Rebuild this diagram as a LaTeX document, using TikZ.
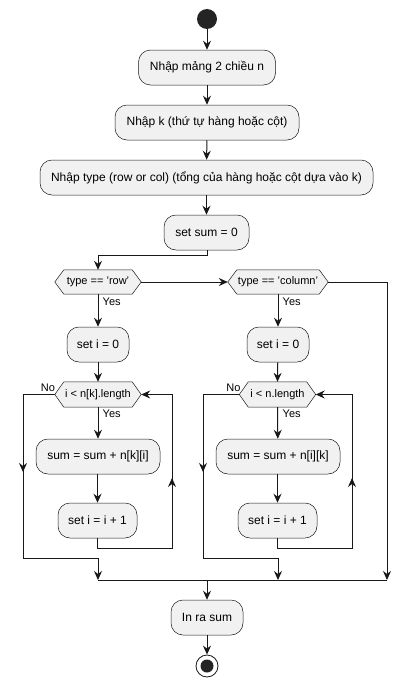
\documentclass[tikz,border=0pt]{standalone}
\usepackage{fontspec}
\setmainfont{Liberation Sans}
\usetikzlibrary{arrows.meta}
\definecolor{boxfill}{HTML}{F1F1F1}
\definecolor{ink}{HTML}{181818}
\tikzset{
  x=1pt,y=-1pt,
  act/.style={draw=ink,fill=boxfill,line width=0.5pt,rounded corners=12pt,minimum height=35pt,inner sep=0pt,font=\fontsize{12}{14}\selectfont,text=black},
  cond/.style={minimum height=24pt,inner sep=0pt,font=\fontsize{11}{13}\selectfont,text=black},
  lbl/.style={font=\fontsize{11}{13}\selectfont,text=black,inner sep=0pt},
  flow/.style={draw=ink,line width=1pt,-{Stealth[length=9pt,width=8pt,inset=3pt]}},
  seg/.style={draw=ink,line width=1pt},
}
\newcommand{\hexa}[1]{\draw[draw=ink,fill=boxfill,line width=0.5pt] (#1.west) -- ([xshift=9pt]#1.north west) -- ([xshift=-9pt]#1.north east) -- (#1.east) -- ([xshift=-9pt]#1.south east) -- ([xshift=9pt]#1.south west) -- cycle;}
\begin{document}
\begin{tikzpicture}
\useasboundingbox (0,0) rectangle (413,688);
% start
\node[circle,fill=ink!95,minimum size=20pt,inner sep=0pt] (start) at (207,19) {};
\node[act,minimum width=137pt] (b1) at (207,67.5) {Nhập mảng 2 chiều n};
\node[act,minimum width=184pt] (b2) at (207,122.5) {Nhập k (thứ tự hàng hoặc cột)};
\node[act,minimum width=333pt] (b3) at (206.5,177.5) {Nhập type (row or col) (tổng của hàng hoặc cột dựa vào k)};
\node[act,minimum width=85pt] (b4) at (206.5,232.5) {set sum = 0};
% conditions
\node[cond,minimum width=86pt] (d1) at (98,282) {};
\hexa{d1}
\node[cond,minimum width=86pt] at (98,282) {type == 'row'};
\node[cond,minimum width=100pt] (d2) at (278,282) {};
\hexa{d2}
\node[cond,minimum width=100pt] at (278,282) {type == 'column'};
\node[lbl,anchor=west] (y1) at (102.5,302) {Yes};
\node[lbl,anchor=west] (y2) at (282.5,302) {Yes};
% left branch
\node[act,minimum width=62pt] (s1L) at (98,344.5) {set i = 0};
\node[cond,minimum width=86pt,minimum height=25pt] (dL) at (98,394.5) {};
\hexa{dL}
\node[cond,minimum width=86pt] at (98,394.5) {i < n[k].length};
\node[lbl] (nL) at (48,388) {No};
\node[lbl,anchor=west] (yL) at (102.5,414) {Yes};
\node[act,minimum width=124pt] (sumL) at (98,456.5) {sum = sum + n[k][i]};
\node[act,minimum width=79pt] (incL) at (97.5,520.5) {set i = i + 1};
% right branch
\node[act,minimum width=62pt] (s1R) at (278,344.5) {set i = 0};
\node[cond,minimum width=76pt,minimum height=25pt] (dR) at (277.5,394.5) {};
\hexa{dR}
\node[cond,minimum width=76pt] at (277.5,394.5) {i < n.length};
\node[lbl] (nR) at (233.5,388) {No};
\node[lbl,anchor=west] (yR) at (282.5,414) {Yes};
\node[act,minimum width=124pt] (sumR) at (278,456.5) {sum = sum + n[i][k]};
\node[act,minimum width=79pt] (incR) at (277.5,520.5) {set i = i + 1};
% end
\node[act,minimum width=72pt] (out) at (207,617.5) {In ra sum};
\node[circle,draw=ink,line width=0.8pt,fill=white,minimum size=22pt,inner sep=0pt] (stop) at (207,666) {};
\node[circle,fill=ink!95,minimum size=13pt,inner sep=0pt] (stopin) at (207,666) {};
% coordinates
\coordinate (c1) at (207,255);
\coordinate (c2) at (98,255);
\coordinate (fr) at (387,282);
\coordinate (m1) at (98,580);
\coordinate (m2) at (278,580);
\coordinate (m3) at (387,580);
\coordinate (mc) at (207,580);
\coordinate (lLa) at (23,394.5);
\coordinate (lLb) at (23,472);
\coordinate (lLc) at (23,558);
\coordinate (lLd) at (98,558);
\coordinate (rLa) at (98,548);
\coordinate (rLb) at (172,548);
\coordinate (rLc) at (172,478);
\coordinate (rLd) at (172,394.5);
\coordinate (lRa) at (203,394.5);
\coordinate (lRb) at (203,472);
\coordinate (lRc) at (203,558);
\coordinate (lRd) at (278,558);
\coordinate (rRa) at (278,548);
\coordinate (rRb) at (352,548);
\coordinate (rRc) at (352,478);
\coordinate (rRd) at (352,394.5);
% flows
\draw[flow] (start) -- (b1);
\draw[flow] (b1) -- (b2);
\draw[flow] (b2) -- (b3);
\draw[flow] (b3.south -| b4) -- (b4);
\draw[flow] (b4.south -| c1) -- (c1) -- (c2) -- (d1.north);
\draw[flow] (d1.east) -- (d2.west);
\draw[flow] (d1.south) -- (s1L);
\draw[flow] (s1L) -- (dL.north);
\draw[flow] (dL.south) -- (sumL);
\draw[flow] (sumL.south -| incL) -- (incL);
\draw[seg] (dL.west) -- (lLa) -- (lLb);
\draw[flow] (lLa) -- (lLb);
\draw[seg] (lLb) -- (lLc) -- (lLd);
\draw[flow] (lLd) -- (m1);
\draw[seg] (incL.south) -- (incL.south |- rLa) -- (rLb) -- (rLc);
\draw[flow] (rLb) -- (rLc);
\draw[flow] (rLc) -- (rLd) -- (dL.east);
\draw[flow] (d2.south) -- (s1R);
\draw[flow] (s1R) -- (dR.north);
\draw[flow] (dR.south) -- (sumR);
\draw[flow] (sumR.south -| incR) -- (incR);
\draw[seg] (dR.west) -- (lRa) -- (lRb);
\draw[flow] (lRa) -- (lRb);
\draw[seg] (lRb) -- (lRc) -- (lRd);
\draw[flow] (lRd) -- (m2);
\draw[seg] (incR.south) -- (incR.south |- rRa) -- (rRb) -- (rRc);
\draw[flow] (rRb) -- (rRc);
\draw[flow] (rRc) -- (rRd) -- (dR.east);
\draw[flow] (d2.east) -- (fr) -- (m3);
\draw[seg] (m1) -- (m3);
\draw[flow] (mc) -- (out);
\draw[flow] (out) -- (stop);
\end{tikzpicture}
\end{document}
